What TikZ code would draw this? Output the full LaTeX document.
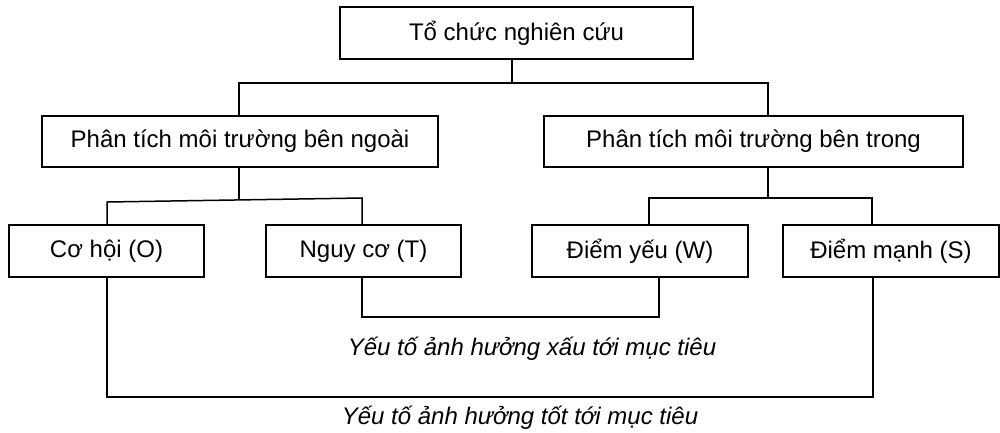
\documentclass[tikz,border=0pt]{standalone}
\usepackage{fontspec}
\setmainfont{Liberation Sans}
\begin{document}
\begin{tikzpicture}[x=1pt,y=-1pt,
  box/.style={draw,line width=1.5pt,rectangle,inner sep=0pt,font=\fontsize{24}{28}\selectfont},
  conn/.style={line width=1.5pt},
  lbl/.style={font=\fontsize{24}{28}\selectfont\itshape,inner sep=0pt}]
\useasboundingbox (0,0) rectangle (1000,432);
\node[box,minimum width=353pt,minimum height=52pt] (top) at (516.5,33) {Tổ chức nghiên cứu};
\node[box,minimum width=396pt,minimum height=51pt] (L) at (240,141.5) {Phân tích môi trường bên ngoài};
\node[box,minimum width=419pt,minimum height=51pt] (R) at (753.5,141.5) {Phân tích môi trường bên trong};
\node[box,minimum width=195pt,minimum height=52pt] (O) at (106.5,251) {Cơ hội (O)};
\node[box,minimum width=195pt,minimum height=52pt] (T) at (363.5,251) {Nguy cơ (T)};
\node[box,minimum width=216pt,minimum height=52pt] (W) at (640,251) {Điểm yếu (W)};
\node[box,minimum width=216pt,minimum height=52pt] (S) at (891,251) {Điểm mạnh (S)};
\coordinate (c1) at (512,83);
\coordinate (c2) at (239,83);
\coordinate (c3) at (768,83);
\coordinate (c4) at (239,200);
\coordinate (c5) at (107,202);
\coordinate (c6) at (362,198);
\coordinate (c7) at (768,198);
\coordinate (c8) at (649,198);
\coordinate (c9) at (872,198);
\coordinate (c10) at (362,317);
\coordinate (c11) at (659,317);
\coordinate (c12) at (107,397);
\coordinate (c13) at (873,397);
\draw[conn] (top.south -| c1) -- (c1);
\draw[conn] (L.north -| c2) -- (c2) -- (c3) -- (R.north -| c3);
\draw[conn] (L.south -| c4) -- (c4);
\draw[conn] (O.north -| c5) -- (c5) -- (c6) -- (T.north -| c6);
\draw[conn] (R.south -| c7) -- (c7);
\draw[conn] (W.north -| c8) -- (c8) -- (c9) -- (S.north -| c9);
\draw[conn] (T.south -| c10) -- (c10) -- (c11) -- (W.south -| c11);
\draw[conn] (O.south -| c12) -- (c12) -- (c13) -- (S.south -| c13);
\node[lbl] (bad) at (532,349) {Yếu tố ảnh hưởng xấu tới mục tiêu};
\node[lbl] (good) at (520,418) {Yếu tố ảnh hưởng tốt tới mục tiêu};
\end{tikzpicture}
\end{document}
